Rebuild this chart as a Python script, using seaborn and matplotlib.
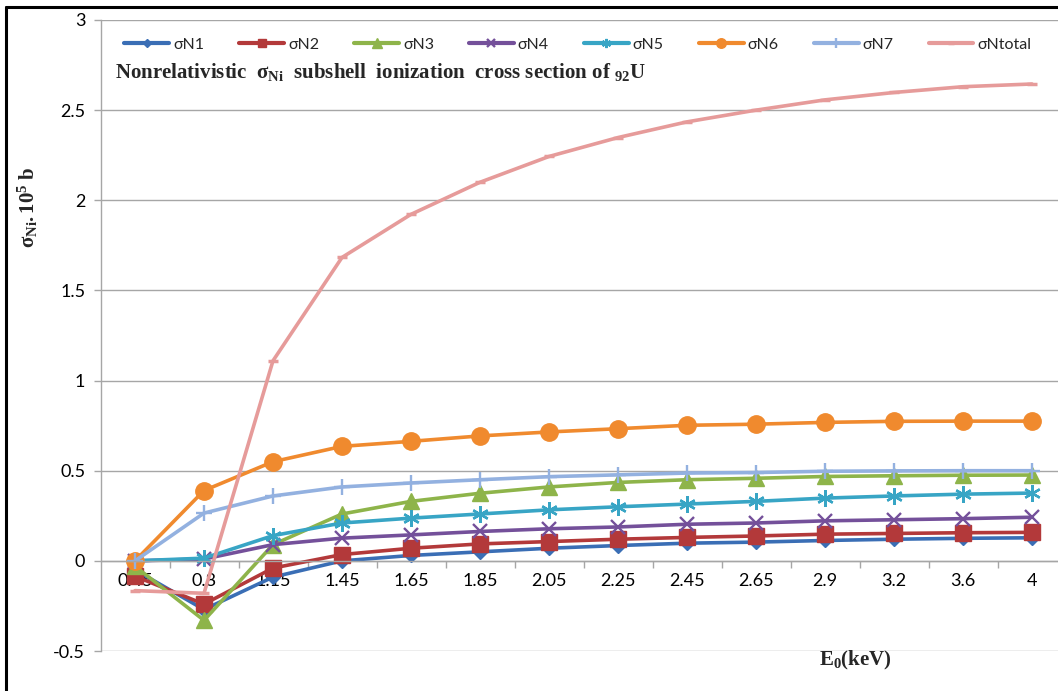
import numpy as np
import pandas as pd
import matplotlib
matplotlib.use("Agg")
import matplotlib.pyplot as plt
import seaborn as sns
from matplotlib.lines import Line2D
from matplotlib.ticker import FixedLocator, FuncFormatter

# ---------------- data ----------------
energies = ["0.45", "0.8", "1.15", "1.45", "1.65", "1.85", "2.05", "2.25",
            "2.45", "2.65", "2.9", "3.2", "3.6", "4"]
sigma_N1 = [-0.05, -0.27, -0.09, 0.00, 0.03, 0.05, 0.07, 0.085, 0.098, 0.104, 0.113, 0.12, 0.125, 0.128]
sigma_N2 = [-0.085, -0.24, -0.04, 0.035, 0.07, 0.094, 0.107, 0.12, 0.13, 0.138, 0.148, 0.152, 0.156, 0.158]
sigma_N3 = [-0.03, -0.33, 0.09, 0.26, 0.33, 0.375, 0.41, 0.435, 0.45, 0.458, 0.468, 0.472, 0.475, 0.476]
sigma_N4 = [0.0, 0.01, 0.09, 0.126, 0.144, 0.163, 0.178, 0.188, 0.203, 0.21, 0.222, 0.228, 0.234, 0.242]
sigma_N5 = [0.0, 0.015, 0.14, 0.21, 0.237, 0.26, 0.283, 0.30, 0.315, 0.33, 0.348, 0.36, 0.37, 0.376]
sigma_N6 = [0.0, 0.39, 0.55, 0.635, 0.663, 0.693, 0.715, 0.733, 0.752, 0.758, 0.768, 0.774, 0.775, 0.775]
sigma_N7 = [0.0, 0.265, 0.36, 0.41, 0.432, 0.45, 0.467, 0.477, 0.487, 0.49, 0.497, 0.499, 0.5, 0.5]
sigma_Ntotal = [-0.165, -0.18, 1.11, 1.683, 1.922, 2.10, 2.243, 2.348, 2.435, 2.50, 2.557, 2.598, 2.63, 2.645]

series_names = ["σN1", "σN2", "σN3", "σN4", "σN5", "σN6", "σN7", "σNtotal"]
y_ticks = [-0.5, 0, 0.5, 1, 1.5, 2, 2.5, 3]

# ---------------- style ----------------
sns.set_theme(style="white")
plt.rcParams["font.family"] = ["Lato", "DejaVu Sans"]
plt.rcParams["mathtext.fontset"] = "custom"
plt.rcParams["mathtext.rm"] = "Liberation Serif"
plt.rcParams["mathtext.bf"] = "Liberation Serif:bold"
plt.rcParams["mathtext.it"] = "Liberation Serif:italic"

W, H = 1058, 691
fig = plt.figure(figsize=(W / 100, H / 100), dpi=100)
fig.patch.set_facecolor("white")
ax = fig.add_axes([100.5 / W, 40 / H, 966 / W, 631 / H])
ax.set_facecolor("white")

styles = [
    (sigma_N1, "#3A6EB5", "D", 7.5, 1.0),
    (sigma_N2, "#B3393A", "s", 11, 1.0),
    (sigma_N3, "#8EB44A", "^", 12, 1.0),
    (sigma_N4, "#74509A", "x", 9.5, 1.7),
    (sigma_N5, "#38A5C5", (6, 2, 0), 12, 1.7),
    (sigma_N6, "#F08A2E", "o", 12.5, 1.0),
    (sigma_N7, "#93B1E0", "+", 12, 1.7),
    (sigma_Ntotal, "#E69B9A", "_", 7, 2.5),
]

for name, (vals, color, mk, ms, mew) in zip(series_names, styles):
    sns.lineplot(x=energies, y=vals, ax=ax, color=color, marker=mk,
                 markersize=ms, markeredgewidth=mew, markeredgecolor=color,
                 markerfacecolor=color, linewidth=2.6, label=name, sort=False,
                 clip_on=False)

# ---------------- axes ----------------
ax.set_xlim(-0.5, len(energies) - 0.5)
ax.set_ylim(-0.5, 3)
ax.set_xlabel("")
ax.set_ylabel("")
ax.yaxis.set_major_locator(FixedLocator(y_ticks))
ax.yaxis.set_major_formatter(FuncFormatter(lambda v, p: f"{v:g}"))
ax.yaxis.grid(True, color="#A6A6A6", linewidth=1.0)
ax.xaxis.grid(False)
ax.set_axisbelow(True)

for s in ["top", "right"]:
    ax.spines[s].set_visible(False)
ax.spines["left"].set_color("#A6A6A6")
ax.spines["left"].set_linewidth(1.0)
ax.spines["bottom"].set_color("#A6A6A6")
ax.spines["bottom"].set_linewidth(1.0)
ax.spines["bottom"].set_position(("data", 0))

ax.set_xticks(np.arange(len(energies)))
ax.set_xticklabels(energies)
ax.xaxis.set_minor_locator(FixedLocator(np.arange(0.5, len(energies), 1.0)))
ax.tick_params(axis="x", which="major", length=0, pad=9, labelsize=13, colors="black")
ax.tick_params(axis="x", which="minor", length=5, width=1, direction="out", color="#A6A6A6")
ax.tick_params(axis="y", which="major", length=5, width=1, direction="out",
               color="#A6A6A6", pad=6, labelsize=13, labelcolor="black")
ax.tick_params(axis="y", left=True)
ax.tick_params(axis="x", bottom=True, which="both")

# legend
leg = ax.legend(loc="center left", bbox_to_anchor=(118 / W, 1 - 45 / H),
                bbox_transform=fig.transFigure, ncol=8, frameon=False,
                fontsize=11.5, handlelength=2.8, handletextpad=0.25,
                columnspacing=2.2, borderaxespad=0)
for ln in leg.get_lines():
    ln.set_markersize(ln.get_markersize() * 0.55)
    ln.set_linewidth(3)

# title inside plot
fig.text(115 / W, 1 - 72 / H,
         r"Nonrelativistic  $\mathbf{σ_{Ni}}$  subshell  ionization  cross section of $\mathbf{_{92}U}$",
         fontfamily="Liberation Serif", fontweight="bold", fontsize=15,
         ha="left", va="center")

# axis labels
fig.text(28 / W, 1 - 207 / H, r"$\mathbf{σ_{Ni}{.}10^{5}\ b}$", rotation=90,
         fontsize=15, ha="center", va="center")
fig.text(855 / W, 1 - 660 / H, r"$\mathbf{E_{0}}$$\mathbf{(keV)}$",
         fontsize=15, ha="center", va="center")

# outer frame
fig.add_artist(Line2D([6 / W, 1.0], [1 - 7 / H, 1 - 7 / H], color="black",
                      linewidth=2.2, transform=fig.transFigure))
fig.add_artist(Line2D([6 / W, 6 / W], [0, 1 - 7 / H], color="black",
                      linewidth=2.2, transform=fig.transFigure))

fig.savefig("out.png", dpi=100)
